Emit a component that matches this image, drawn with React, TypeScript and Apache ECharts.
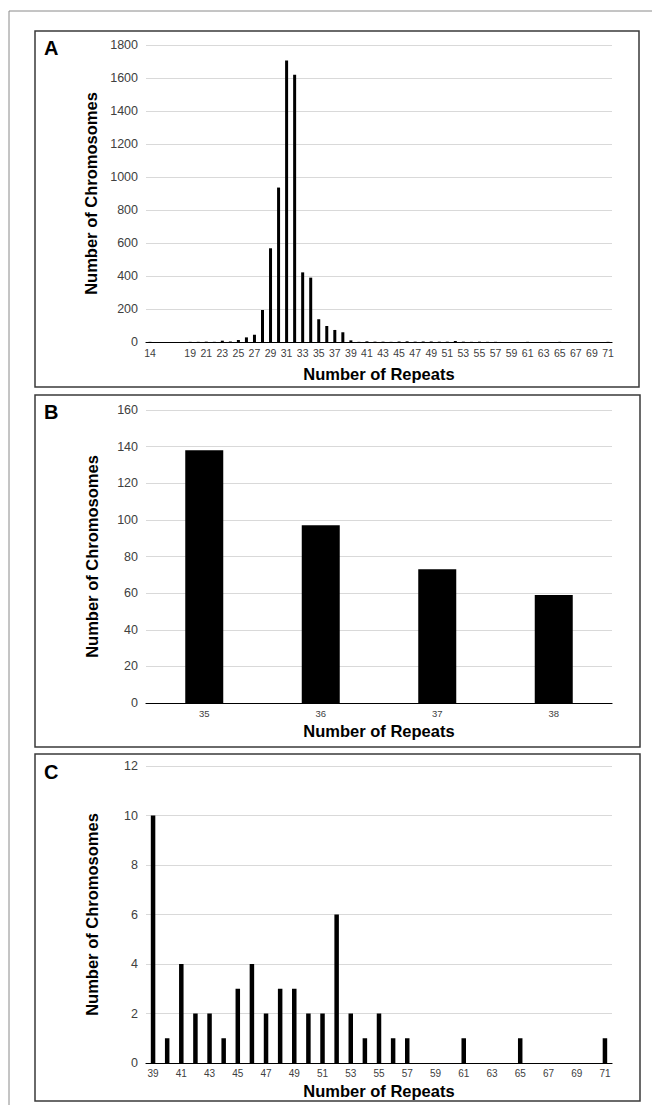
import React, { useEffect, useRef } from "react";
import * as echarts from "echarts";

const catsA = ["14","15","16","17","18","19","20","21","22","23","24","25","26","27","28","29","30","31","32","33","34","35","36","37","38","39","40","41","42","43","44","45","46","47","48","49","50","51","52","53","54","55","56","57","58","59","60","61","62","63","64","65","66","67","68","69","70","71"];
const valuesA = [1,0,0,0,0,1,1,2,1,8,3,12,28,44,194,568,936,1706,1620,422,390,138,97,73,59,10,1,4,2,2,1,3,4,2,3,3,2,2,6,2,1,2,1,1,0,0,0,1,0,0,0,1,0,0,0,0,0,1];

const catsB = ["35","36","37","38"];
const valuesB = [138,97,73,59];

const catsC = ["39","40","41","42","43","44","45","46","47","48","49","50","51","52","53","54","55","56","57","58","59","60","61","62","63","64","65","66","67","68","69","70","71"];
const valuesC = [10,1,4,2,2,1,3,4,2,3,3,2,2,6,2,1,2,1,1,0,0,0,1,0,0,0,1,0,0,0,0,0,1];

const yTitle = "Number of Chromosomes";
const xTitle = "Number of Repeats";
const panelLetters = ["A", "B", "C"];

const FONT = "'Liberation Sans', Arial, sans-serif";

export default function App() {
  const ref = useRef<HTMLDivElement>(null);
  useEffect(() => {
    document.body.style.margin = "0";
    if (!ref.current) return;
    const chart = echarts.init(ref.current, null, { renderer: "svg" });

    const grids = [
      { left: 146, top: 45, width: 466, height: 297 },
      { left: 146, top: 410, width: 466, height: 293 },
      { left: 146, top: 766, width: 466, height: 297 },
    ];
    const yCfg = [
      { max: 1800, interval: 200 },
      { max: 160, interval: 20 },
      { max: 12, interval: 2 },
    ];
    const cats = [catsA, catsB, catsC];
    const vals = [valuesA, valuesB, valuesC];
    const barW = [3, 38, 4.5];
    const nameGaps = [23, 19, 19];
    const labelSize = [10.5, 9.5, 10];
    const labelInterval: any[] = [
      (idx: number, v: string) => idx === 0 || (Number(v) >= 19 && Number(v) % 2 === 1),
      0,
      1,
    ];

    const boxes = [
      { x: 35, y: 31, w: 604, h: 356 },
      { x: 35, y: 395, w: 605, h: 352 },
      { x: 35, y: 754, w: 605, h: 347 },
    ];
    const letterY = [48, 412, 772];

    const graphic: any[] = [
      {
        type: "rect",
        shape: { x: 9, y: 11, width: 680, height: 1120 },
        style: { fill: "none", stroke: "#8a8a8a", lineWidth: 1 },
        silent: true,
      },
    ];
    boxes.forEach((b, i) => {
      graphic.push({
        type: "rect",
        shape: { x: b.x, y: b.y, width: b.w, height: b.h },
        style: { fill: "none", stroke: "#3a3a3a", lineWidth: 1.5 },
        silent: true,
      });
      graphic.push({
        type: "text",
        x: 44,
        y: letterY[i],
        style: {
          text: panelLetters[i],
          font: `bold 20px ${FONT}`,
          fill: "#000",
          verticalAlign: "middle",
          align: "left",
        },
        silent: true,
      });
    });

    const option: any = {
      animation: false,
      textStyle: { fontFamily: FONT },
      grid: grids.map((g) => ({ ...g, containLabel: false })),
      xAxis: grids.map((_, i) => ({
        type: "category",
        gridIndex: i,
        data: cats[i],
        boundaryGap: true,
        axisTick: { show: false },
        axisLine: { lineStyle: { color: "#000", width: 1.2 } },
        axisLabel: {
          interval: labelInterval[i],
          fontSize: labelSize[i],
          color: "#404040",
          margin: 5,
          fontFamily: FONT,
        },
        name: xTitle,
        nameLocation: "middle",
        nameGap: nameGaps[i],
        nameTextStyle: { fontSize: 16.5, fontWeight: "bold", color: "#000", fontFamily: FONT },
      })),
      yAxis: grids.map((_, i) => ({
        type: "value",
        gridIndex: i,
        min: 0,
        max: yCfg[i].max,
        interval: yCfg[i].interval,
        axisLine: { show: false },
        axisTick: { show: false },
        splitLine: { lineStyle: { color: "#d9d9d9", width: 1 } },
        axisLabel: {
          fontSize: 12.5,
          color: "#404040",
          margin: 8,
          fontFamily: FONT,
          formatter: (v: number) => String(v),
        },
        name: yTitle,
        nameLocation: "middle",
        nameRotate: 90,
        nameGap: 46,
        nameTextStyle: { fontSize: 16.5, fontWeight: "bold", color: "#000", fontFamily: FONT },
      })),
      series: grids.map((_, i) => ({
        type: "bar",
        xAxisIndex: i,
        yAxisIndex: i,
        data: vals[i],
        barWidth: barW[i],
        itemStyle: { color: "#000" },
      })),
      graphic,
    };
    chart.setOption(option);
    return () => chart.dispose();
  }, []);
  return <div ref={ref} style={{ width: 652, height: 1105 }} />;
}
